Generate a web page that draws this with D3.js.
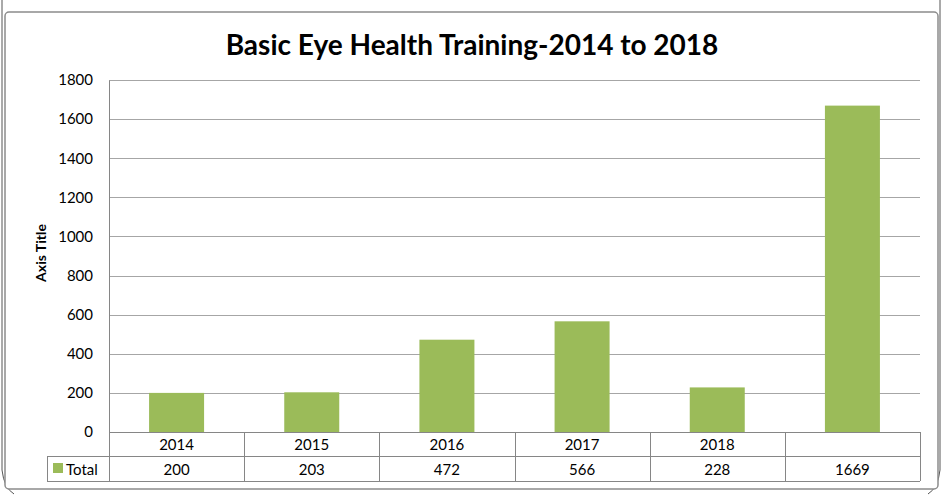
<!DOCTYPE html>
<html><head><meta charset="utf-8">
<script src="https://cdn.jsdelivr.net/npm/d3@7"></script>
<style>body{margin:0;background:#fff}svg{display:block}text{font-family:Lato,"Open Sans",sans-serif}</style>
</head><body>
<svg id="c" width="942" height="499"></svg>
<script>
const categories = ["2014","2015","2016","2017","2018",""];
const seriesName = "Total";
const values = [200,203,472,566,228,1669];
const yTicks = [0,200,400,600,800,1000,1200,1400,1600,1800];
const title = "Basic Eye Health Training-2014 to 2018";
const yTitle = "Axis Title";

(function(){
const svg = d3.select("#c");
const pL=109,pR=920,pT=80,pB=432;
const x = d3.scaleBand().domain(d3.range(categories.length)).range([pL,pR]).paddingInner(0).paddingOuter(0);
const y = d3.scaleLinear().domain([0,1800]).range([pB,pT]);

// outer frames
svg.append("path").attr("d","M2,0 L2,470 Q4,488 14,494").attr("fill","none").attr("stroke","#555").attr("stroke-width",1);
svg.append("path").attr("d","M940,0 L940,470 Q938,488 928,494").attr("fill","none").attr("stroke","#555").attr("stroke-width",1);
svg.append("rect").attr("x",5).attr("y",12).attr("width",933).attr("height",477).attr("rx",4)
  .attr("fill","#fff").attr("stroke","#8c8c8c").attr("stroke-width",1.5);

svg.append("text").attr("x",472).attr("y",55).attr("text-anchor","middle")
  .attr("font-size",28).attr("font-weight","bold").attr("fill","#000").text(title);

// gridlines
svg.append("g").selectAll("line").data(yTicks.filter(d=>d>0)).join("line")
  .attr("x1",pL).attr("x2",pR).attr("y1",d=>Math.round(y(d))+0.5).attr("y2",d=>Math.round(y(d))+0.5)
  .attr("stroke","#a6a6a6").attr("stroke-width",1);

// y axis
const ya = svg.append("g").attr("transform",`translate(${pL},0)`)
  .call(d3.axisLeft(y).tickValues(yTicks).tickSize(0).tickPadding(16).tickFormat(d3.format("d")));
ya.select(".domain").attr("stroke","#868686");
ya.selectAll("text").attr("font-size",15).attr("fill","#000");

svg.append("text").attr("transform",`translate(46,253) rotate(-90)`).attr("text-anchor","middle")
  .attr("font-size",14).attr("font-weight","bold").attr("fill","#000").text(yTitle);

// bars
const bw = 55;
svg.append("g").selectAll("rect").data(values).join("rect")
  .attr("x",(d,i)=>x(i)+x.bandwidth()/2-bw/2).attr("width",bw)
  .attr("y",d=>y(d)).attr("height",d=>pB-y(d)).attr("fill","#9bbb59");

// data table
const r1=432,r2=456,r3=481,legL=47;
const tg = svg.append("g").attr("stroke","#868686").attr("stroke-width",1).attr("fill","none");
tg.append("line").attr("x1",pL).attr("x2",pR).attr("y1",r1+0.5).attr("y2",r1+0.5);
tg.append("line").attr("x1",legL).attr("x2",pR).attr("y1",r2+0.5).attr("y2",r2+0.5);
tg.append("line").attr("x1",legL).attr("x2",pR).attr("y1",r3+0.5).attr("y2",r3+0.5);
tg.append("line").attr("x1",legL+0.5).attr("x2",legL+0.5).attr("y1",r2).attr("y2",r3);
d3.range(categories.length+1).forEach(i=>{
  const xx = i<categories.length? x(i):pR;
  tg.append("line").attr("x1",Math.round(xx)+0.5).attr("x2",Math.round(xx)+0.5).attr("y1",r1).attr("y2",r3);
});
svg.append("g").selectAll("text").data(categories).join("text")
  .attr("x",(d,i)=>x(i)+x.bandwidth()/2).attr("y",r1+18).attr("text-anchor","middle")
  .attr("font-size",15).attr("fill","#000").text(d=>d);
svg.append("g").selectAll("text").data(values).join("text")
  .attr("x",(d,i)=>x(i)+x.bandwidth()/2).attr("y",r2+19).attr("text-anchor","middle")
  .attr("font-size",15).attr("fill","#000").text(d=>d);
svg.append("rect").attr("x",53).attr("y",463).attr("width",10).attr("height",10).attr("fill","#9bbb59");
svg.append("text").attr("x",66).attr("y",r2+19).attr("font-size",15).attr("fill","#000").text(seriesName);
})();
</script>
</body></html>
